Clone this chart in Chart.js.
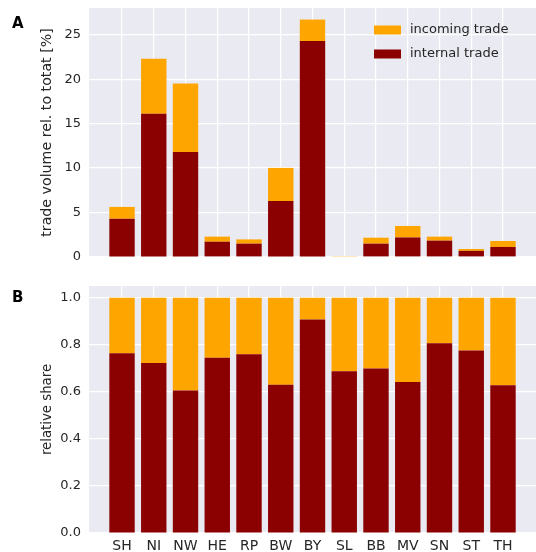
<!DOCTYPE html>
<html><head><meta charset="utf-8">
<script src="https://cdn.jsdelivr.net/npm/chart.js@4/dist/chart.umd.min.js"></script>
<style>
body{margin:0;background:#fff;width:536px;height:552px;overflow:hidden;position:relative;font-family:'DejaVu Sans',sans-serif}
#wa{position:absolute;left:0;top:0;width:536px;height:270px}
#wb{position:absolute;left:0;top:280px;width:536px;height:272px}
.lbl{position:absolute;font:bold 15px 'DejaVu Sans',sans-serif;color:#000;line-height:1}
</style></head><body>
<div id="wa"><canvas id="ca"></canvas></div>
<div id="wb"><canvas id="cb"></canvas></div>
<div class="lbl" style="left:12px;top:16px">A</div>
<div class="lbl" style="left:12px;top:290px">B</div>
<script>
const categories = ['SH','NI','NW','HE','RP','BW','BY','SL','BB','MV','SN','ST','TH'];
// panel A: trade volume relative to total [%]
const totalA    = [5.63, 22.3, 19.5, 2.29, 1.98, 10.02, 26.7, 0.10, 2.17, 3.49, 2.29, 0.90, 1.80];
const internalA = [4.31, 16.1, 11.82, 1.72, 1.50, 6.30, 24.28, 0.07, 1.50, 2.20, 1.84, 0.69, 1.13];
// panel B: relative share
const totalB    = [1, 1, 1, 1, 1, 1, 1, 1, 1, 1, 1, 1, 1];
const internalB = [0.764, 0.723, 0.606, 0.745, 0.760, 0.630, 0.908, 0.688, 0.699, 0.642, 0.807, 0.776, 0.628];
const yTicksA = [0, 5, 10, 15, 20, 25];
const yTicksB = [0, 0.2, 0.4, 0.6, 0.8, 1.0];
const seriesNames = ['incoming trade', 'internal trade'];

const ORANGE = '#FFA500', DARKRED = '#8B0000', TXT = '#262626', FONT = "'DejaVu Sans', sans-serif";

const bgPlugin = {id:'bg', beforeDraw(c){const {ctx, chartArea:a} = c; ctx.save(); ctx.fillStyle='#EAEAF2'; ctx.fillRect(a.left, a.top, a.right-a.left, a.bottom-a.top); ctx.restore();}};
const legendPlugin = {id:'lg', afterDatasetsDraw(c){
  if (!c.options.plugins.lg || !c.options.plugins.lg.show) return;
  const {ctx, chartArea:a} = c;
  ctx.save();
  ctx.font = '13px ' + FONT; ctx.textBaseline = 'middle'; ctx.textAlign = 'left';
  c.data.datasets.slice().sort((p,q)=>q.order-p.order).forEach((d, i) => {
    const cy = a.top + 22 + i*24;
    const bx = a.right - 162;
    ctx.fillStyle = d.backgroundColor; ctx.fillRect(bx, cy-4.5, 27, 9);
    ctx.fillStyle = TXT; ctx.fillText(d.label, bx + 36, cy);
  });
  ctx.restore();
}};

function make(id, total, internal, yTicks, yMax, title, titleSize, showX, padding, xH, fmt){
  return new Chart(document.getElementById(id), {
    type:'bar',
    data:{datasets:[
      // incoming trade: floating bar from the internal level up to the total level
      {label:seriesNames[0], data:total.map((v,i)=>({x:i, y:[internal[i], v]})), backgroundColor:ORANGE, grouped:false, order:2, barPercentage:0.8, categoryPercentage:1, borderWidth:0, borderSkipped:false},
      {label:seriesNames[1], data:internal.map((v,i)=>({x:i, y:v})), backgroundColor:DARKRED, grouped:false, order:1, barPercentage:0.8, categoryPercentage:1, borderWidth:0}
    ]},
    options:{
      responsive:true, maintainAspectRatio:false, animation:false,
      layout:{padding:padding},
      plugins:{legend:{display:false}, tooltip:{enabled:false}, lg:{show:!showX}},
      scales:{
        x:{type:'linear', min:-1.04, max:13.04, offset:false,
          afterBuildTicks:s=>{s.ticks = categories.map((_,i)=>({value:i}));},
          afterFit:s=>{s.height = xH; s.paddingLeft = 0; s.paddingRight = 0;},
          grid:{color:'#ffffff', lineWidth:1.2, drawTicks:false, offset:false},
          border:{display:false},
          ticks:{display:showX, padding:5, color:TXT, font:{family:FONT, size:14}, callback:v=>categories[v], maxRotation:0, autoSkip:false}
        },
        y:{type:'linear', min:0, max:yMax,
          afterBuildTicks:s=>{s.ticks = yTicks.map(v=>({value:v}));},
          afterFit:s=>{s.width = 89; s.paddingTop = 0; s.paddingBottom = 0;},
          grid:{color:'#ffffff', lineWidth:1.2, drawTicks:false},
          border:{display:false},
          ticks:{padding:8, color:TXT, font:{family:FONT, size:13}, callback:fmt},
          title:{display:true, text:title, color:TXT, font:{family:FONT, size:titleSize}, padding:{top:39.5 - (titleSize-13)*0.6, bottom:0}}
        }
      }
    },
    plugins:[bgPlugin, legendPlugin]
  });
}

make('ca', totalA, internalA, yTicksA, 28, 'trade volume rel. to totat [%]', 14.2, false, {left:0,right:0,top:8,bottom:13}, 0, v=>String(v));
make('cb', totalB, internalB, yTicksB, 1.05, 'relative share', 13.3, true, {left:0,right:0,top:6,bottom:0}, 19, v=>v.toFixed(1));
</script>
</body></html>
